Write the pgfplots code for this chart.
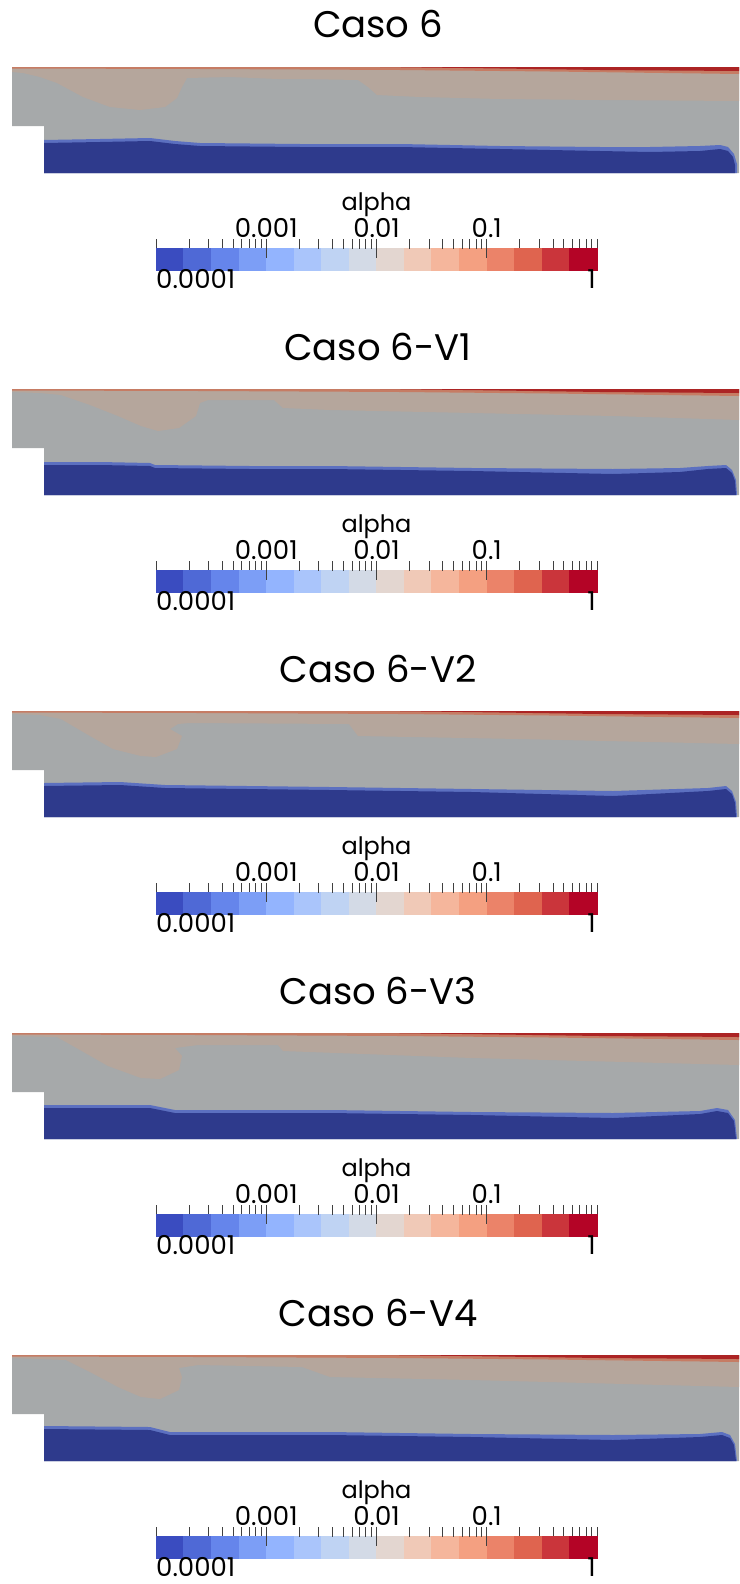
\documentclass[border=0pt]{standalone}
\usepackage{pgfplots}
\pgfplotsset{compat=1.18}
\usepackage{fontspec}
\setmainfont{Poppins}
\definecolor{cgray}{RGB}{166,169,170}
\definecolor{ctan}{RGB}{181,166,156}
\definecolor{cblue}{RGB}{46,58,140}
\definecolor{cfringe}{RGB}{92,112,192}
\definecolor{corange}{RGB}{198,124,100}
\definecolor{cdred}{RGB}{172,36,36}
\definecolor{b0}{RGB}{58,76,192}
\definecolor{b1}{RGB}{79,105,214}
\definecolor{b2}{RGB}{101,133,235}
\definecolor{b3}{RGB}{124,158,246}
\definecolor{b4}{RGB}{147,180,254}
\definecolor{b5}{RGB}{170,197,251}
\definecolor{b6}{RGB}{191,211,243}
\definecolor{b7}{RGB}{211,218,230}
\definecolor{b8}{RGB}{227,214,208}
\definecolor{b9}{RGB}{240,201,183}
\definecolor{b10}{RGB}{245,182,156}
\definecolor{b11}{RGB}{244,160,129}
\definecolor{b12}{RGB}{235,131,105}
\definecolor{b13}{RGB}{223,100,79}
\definecolor{b14}{RGB}{202,53,59}
\definecolor{b15}{RGB}{180,4,38}
\pgfplotsset{
  domainax/.style={scale only axis, width=739pt, height=106pt, anchor=north west,
    xmin=0, xmax=739, ymin=0, ymax=106, y dir=reverse, axis lines=none},
  cbarax/.style={scale only axis, width=441pt, height=22pt, anchor=north west,
    xmin=1e-4, xmax=1, ymin=0, ymax=1,
    axis x line*=top, axis y line=none, x axis line style={draw=none},
    ytick=\empty, xticklabels={},
    tick style={color=black!75, line width=0.9pt},
    axis on top, clip=false},
  binfill/.style={draw=#1, line width=0.3pt, fill=#1, forget plot}
}
\newcommand{\cbarplots}{%
  \addplot[binfill=b0] coordinates {(1e-4,0)(1.7783e-4,0)(1.7783e-4,1)(1e-4,1)} --cycle;
  \addplot[binfill=b1] coordinates {(1.7783e-4,0)(3.1623e-4,0)(3.1623e-4,1)(1.7783e-4,1)} --cycle;
  \addplot[binfill=b2] coordinates {(3.1623e-4,0)(5.6234e-4,0)(5.6234e-4,1)(3.1623e-4,1)} --cycle;
  \addplot[binfill=b3] coordinates {(5.6234e-4,0)(1e-3,0)(1e-3,1)(5.6234e-4,1)} --cycle;
  \addplot[binfill=b4] coordinates {(1e-3,0)(1.7783e-3,0)(1.7783e-3,1)(1e-3,1)} --cycle;
  \addplot[binfill=b5] coordinates {(1.7783e-3,0)(3.1623e-3,0)(3.1623e-3,1)(1.7783e-3,1)} --cycle;
  \addplot[binfill=b6] coordinates {(3.1623e-3,0)(5.6234e-3,0)(5.6234e-3,1)(3.1623e-3,1)} --cycle;
  \addplot[binfill=b7] coordinates {(5.6234e-3,0)(1e-2,0)(1e-2,1)(5.6234e-3,1)} --cycle;
  \addplot[binfill=b8] coordinates {(1e-2,0)(1.7783e-2,0)(1.7783e-2,1)(1e-2,1)} --cycle;
  \addplot[binfill=b9] coordinates {(1.7783e-2,0)(3.1623e-2,0)(3.1623e-2,1)(1.7783e-2,1)} --cycle;
  \addplot[binfill=b10] coordinates {(3.1623e-2,0)(5.6234e-2,0)(5.6234e-2,1)(3.1623e-2,1)} --cycle;
  \addplot[binfill=b11] coordinates {(5.6234e-2,0)(1e-1,0)(1e-1,1)(5.6234e-2,1)} --cycle;
  \addplot[binfill=b12] coordinates {(1e-1,0)(1.7783e-1,0)(1.7783e-1,1)(1e-1,1)} --cycle;
  \addplot[binfill=b13] coordinates {(1.7783e-1,0)(3.1623e-1,0)(3.1623e-1,1)(1.7783e-1,1)} --cycle;
  \addplot[binfill=b14] coordinates {(3.1623e-1,0)(5.6234e-1,0)(5.6234e-1,1)(3.1623e-1,1)} --cycle;
  \addplot[binfill=b15] coordinates {(5.6234e-1,0)(1,0)(1,1)(5.6234e-1,1)} --cycle;
}
\newcommand{\cbar}[1]{%
  \begin{axis}[xmode=log, cbarax, at={(156pt,-#1pt)},
    xtick={1e-4,1},
    minor xtick={2e-4,3e-4,4e-4,5e-4,6e-4,7e-4,8e-4,9e-4,
                 2e-3,3e-3,4e-3,5e-3,6e-3,7e-3,8e-3,9e-3,
                 2e-2,3e-2,4e-2,5e-2,6e-2,7e-2,8e-2,9e-2,
                 2e-1,3e-1,4e-1,5e-1,6e-1,7e-1,8e-1,9e-1},
    tick align=outside, major tick length=9pt, minor tick length=9pt]
  \cbarplots
  \end{axis}
  \begin{axis}[xmode=log, cbarax, at={(156pt,-#1pt)},
    xtick={1e-3,1e-2,1e-1}, minor xtick={},
    tick align=center, major tick length=19pt]
  \addplot[draw=none, forget plot] coordinates {(1e-4,0)(1,1)};
  \end{axis}
}
\newcommand{\basefill}{%
  \addplot[fill=cgray, draw=none] coordinates {(12,0)(739,0)(739,106)(44,106)(44,59)(12,59)} --cycle;
}
\newcommand{\redstrip}{%
  \addplot[fill=corange, draw=none] coordinates {(12,0)(739,0)(739,7)(550,4.5)(400,3)(200,2)(12,1.5)} --cycle;
  \addplot[fill=cdred, draw=none] coordinates {(380,0)(739,0)(739,4)(600,3)(480,1.2)} --cycle;
}
\newcommand{\cbarlabels}[1]{% #1 = colorbar top y
  \pgfmathsetmacro{\ya}{-(#1-38)}
  \pgfmathsetmacro{\yb}{-(#1-11)}
  \pgfmathsetmacro{\yc}{-(#1+40)}
  \node[anchor=base, inner sep=0pt, font=\fontsize{24}{28}\selectfont] at (376.5pt,\ya pt) {alpha};
  \node[anchor=base, inner sep=0pt, font=\fontsize{26}{30}\selectfont] at (266.25pt,\yb pt) {0.001};
  \node[anchor=base, inner sep=0pt, font=\fontsize{26}{30}\selectfont] at (376.5pt,\yb pt) {0.01};
  \node[anchor=base, inner sep=0pt, font=\fontsize{26}{30}\selectfont] at (486.75pt,\yb pt) {0.1};
  \node[anchor=base west, inner sep=0pt, font=\fontsize{26}{30}\selectfont] at (156pt,\yc pt) {0.0001};
  \node[anchor=base east, inner sep=0pt, font=\fontsize{26}{30}\selectfont] at (596pt,\yc pt) {1};
}
\begin{document}
\begin{tikzpicture}
\useasboundingbox (0pt,0pt) rectangle (739pt,-1584pt);
% ---------------- Panel 1 ----------------
\node[anchor=base, inner sep=0pt, font=\fontsize{37}{44}\selectfont] at (378pt,-38pt) {Caso 6};
\begin{axis}[domainax, at={(0pt,-67pt)}]
\basefill
\addplot[fill=ctan, draw=none] coordinates {(12,0)(12,5)(23,6)(40,10)(57,16)(83,30)(110,40)(140,43)(165,40)(177,31)(182,20)(187,11)(230,10)(278,12)(300,12)(358,13)(368,20)(377,28)(420,30)(500,32)(600,33)(739,34)(739,0)} --cycle;
\redstrip
\addplot[fill=cfringe, draw=none] coordinates {(44,73)(100,72)(150,71)(175,74)(200,76)(300,77)(400,77)(500,79)(600,80)(650,80)(700,79)(720,78)(728,80)(734,87)(737,97)(737,106)(44,106)} --cycle;
\addplot[fill=cblue, draw=none] coordinates {(44,76)(100,75)(150,74)(175,77)(200,79)(300,80)(400,80)(500,82)(600,84)(650,85)(700,84)(720,82)(728,84)(733,90)(735,98)(735,106)(44,106)} --cycle;
\end{axis}
\cbar{248}
\cbarlabels{248}
% ---------------- Panel 2 ----------------
\node[anchor=base, inner sep=0pt, font=\fontsize{37}{44}\selectfont] at (378pt,-360pt) {Caso 6-V1};
\begin{axis}[domainax, at={(0pt,-389pt)}]
\basefill
\addplot[fill=ctan, draw=none] coordinates {(12,0)(12,3)(40,4)(61,6)(90,16)(118,27)(141,37)(158,42)(179,39)(196,27)(200,14)(208,11)(274,11)(283,19)(330,21)(472,24)(613,27)(739,31)(739,0)} --cycle;
\redstrip
\addplot[fill=cfringe, draw=none] coordinates {(44,73)(100,73)(150,74)(155,76)(250,77)(330,77)(472,79)(613,80)(680,79)(708,77)(726,76)(732,81)(736,91)(737,106)(44,106)} --cycle;
\addplot[fill=cblue, draw=none] coordinates {(44,76)(100,76)(150,77)(155,79)(250,80)(330,80)(472,82)(613,85)(680,83)(708,80)(726,79)(732,84)(735,92)(736,106)(44,106)} --cycle;
\end{axis}
\cbar{570}
\cbarlabels{570}
% ---------------- Panel 3 ----------------
\node[anchor=base, inner sep=0pt, font=\fontsize{37}{44}\selectfont] at (378pt,-682pt) {Caso 6-V2};
\begin{axis}[domainax, at={(0pt,-711pt)}]
\basefill
\addplot[fill=ctan, draw=none] coordinates {(12,0)(12,3)(40,4)(61,8)(90,25)(113,38)(141,45)(156,46)(177,38)(182,25)(170,18)(178,13)(189,12)(349,13)(358,25)(519,28)(739,33)(739,0)} --cycle;
\redstrip
\addplot[fill=cfringe, draw=none] coordinates {(44,72)(120,71)(165,74)(330,76)(472,78)(613,80)(708,77)(726,75)(732,80)(736,91)(737,106)(44,106)} --cycle;
\addplot[fill=cblue, draw=none] coordinates {(44,75)(120,74)(165,77)(330,79)(472,81)(613,85)(708,80)(726,78)(732,83)(735,92)(736,106)(44,106)} --cycle;
\end{axis}
\cbar{892}
\cbarlabels{892}
% ---------------- Panel 4 ----------------
\node[anchor=base, inner sep=0pt, font=\fontsize{37}{44}\selectfont] at (378pt,-1004pt) {Caso 6-V3};
\begin{axis}[domainax, at={(0pt,-1033pt)}]
\basefill
\addplot[fill=ctan, draw=none] coordinates {(12,0)(12,3)(57,4)(80,17)(108,33)(141,45)(160,46)(179,37)(182,23)(175,15)(198,12)(278,12)(283,18)(472,25)(739,32)(739,0)} --cycle;
\redstrip
\addplot[fill=cfringe, draw=none] coordinates {(44,72)(150,72)(175,77)(330,77)(472,79)(613,80)(700,78)(717,75)(728,77)(735,87)(737,106)(44,106)} --cycle;
\addplot[fill=cblue, draw=none] coordinates {(44,75)(150,75)(175,80)(330,80)(472,82)(613,85)(700,81)(717,78)(728,80)(734,88)(736,106)(44,106)} --cycle;
\end{axis}
\cbar{1214}
\cbarlabels{1214}
% ---------------- Panel 5 ----------------
\node[anchor=base, inner sep=0pt, font=\fontsize{37}{44}\selectfont] at (378pt,-1326pt) {Caso 6-V4};
\begin{axis}[domainax, at={(0pt,-1355pt)}]
\basefill
\addplot[fill=ctan, draw=none] coordinates {(12,0)(12,3)(66,5)(90,17)(118,32)(141,42)(160,44)(179,35)(182,22)(179,13)(198,10)(302,12)(330,22)(472,25)(739,32)(739,0)} --cycle;
\redstrip
\addplot[fill=cfringe, draw=none] coordinates {(44,71)(150,72)(170,77)(330,77)(472,79)(613,80)(700,79)(722,77)(730,80)(735,89)(737,106)(44,106)} --cycle;
\addplot[fill=cblue, draw=none] coordinates {(44,74)(150,75)(170,80)(330,80)(472,82)(613,85)(700,82)(722,80)(730,83)(734,90)(736,106)(44,106)} --cycle;
\end{axis}
\cbar{1536}
\cbarlabels{1536}
\end{tikzpicture}
\end{document}
